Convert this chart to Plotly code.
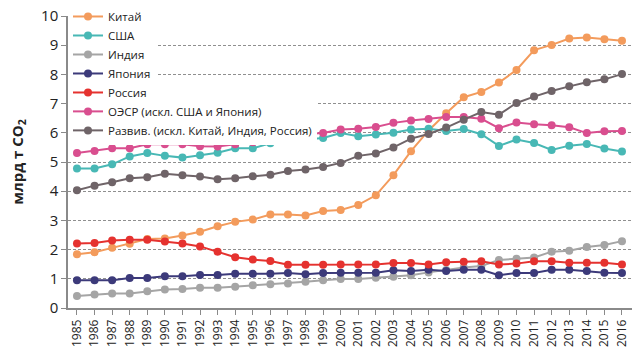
import plotly.graph_objects as go

years = list(range(1985, 2017))

china = [1.84, 1.91, 2.06, 2.20, 2.36, 2.38, 2.48, 2.61, 2.80, 2.95, 3.03, 3.20, 3.20, 3.17, 3.32, 3.36,
         3.53, 3.86, 4.55, 5.37, 6.08, 6.67, 7.22, 7.40, 7.72, 8.15, 8.83, 9.01, 9.23, 9.26, 9.20, 9.15]
usa = [4.78, 4.78, 4.92, 5.19, 5.31, 5.21, 5.15, 5.23, 5.32, 5.47, 5.47, 5.64, 5.73, 5.77, 5.82, 5.99,
       5.88, 5.94, 6.00, 6.11, 6.14, 6.06, 6.13, 5.95, 5.55, 5.77, 5.65, 5.41, 5.56, 5.62, 5.46, 5.36]
india = [0.41, 0.46, 0.50, 0.50, 0.57, 0.63, 0.65, 0.69, 0.69, 0.73, 0.78, 0.81, 0.84, 0.90, 0.95, 0.99,
         0.99, 1.04, 1.07, 1.12, 1.22, 1.30, 1.39, 1.44, 1.64, 1.69, 1.73, 1.93, 1.96, 2.09, 2.16, 2.29]
japan = [0.95, 0.95, 0.95, 1.03, 1.03, 1.09, 1.09, 1.13, 1.13, 1.17, 1.17, 1.17, 1.20, 1.16, 1.20, 1.21,
         1.21, 1.21, 1.29, 1.27, 1.31, 1.27, 1.31, 1.31, 1.12, 1.20, 1.20, 1.31, 1.31, 1.27, 1.21, 1.20]
russia = [2.21, 2.23, 2.31, 2.34, 2.34, 2.28, 2.21, 2.11, 1.93, 1.74, 1.66, 1.61, 1.48, 1.48, 1.48, 1.49,
          1.49, 1.49, 1.54, 1.54, 1.49, 1.57, 1.58, 1.60, 1.49, 1.52, 1.60, 1.60, 1.55, 1.55, 1.55, 1.49]
oecd = [5.31, 5.38, 5.47, 5.47, 5.61, 5.61, 5.61, 5.54, 5.53, 5.61, 5.68, 5.93, 5.93, 5.96, 5.99, 6.11,
        6.14, 6.20, 6.34, 6.42, 6.47, 6.54, 6.54, 6.48, 6.16, 6.35, 6.29, 6.26, 6.19, 5.99, 6.05, 6.06]
develop = [4.03, 4.19, 4.31, 4.44, 4.48, 4.60, 4.55, 4.50, 4.41, 4.44, 4.51, 4.56, 4.69, 4.74, 4.83, 4.97,
           5.21, 5.29, 5.50, 5.80, 5.96, 6.18, 6.45, 6.71, 6.62, 7.02, 7.24, 7.43, 7.59, 7.73, 7.83, 8.01]

series = [
    ("Китай", china, "#F39B5C", "legend"),
    ("США", usa, "#48B8B5", "legend"),
    ("Индия", india, "#A5A5A5", "legend"),
    ("Япония", japan, "#3C3A7A", "legend"),
    ("Россия", russia, "#E5322F", "legend"),
    ("ОЭСР (искл. США и Япония)", oecd, "#D94E8F", "legend2"),
    ("Развив. (искл. Китай, Индия, Россия)", develop, "#6F6468", "legend2"),
]

yticks = list(range(0, 11))

fig = go.Figure()
for name, vals, color, lg in series:
    fig.add_trace(go.Scatter(
        x=years, y=vals, name=name, mode="lines+markers",
        line=dict(color=color, width=2),
        marker=dict(color=color, size=8),
        legend=lg,
    ))

font_family = "Open Sans, Noto Sans, sans-serif"
legend_common = dict(
    bgcolor="white", borderwidth=0, font=dict(size=11.5, color="#222", family=font_family),
    xanchor="left", yanchor="top", itemwidth=30, tracegroupgap=0,
)

fig.update_layout(
    width=641, height=356,
    margin=dict(l=68, r=9, t=16, b=48, autoexpand=False),
    paper_bgcolor="white", plot_bgcolor="white",
    font=dict(family=font_family, color="#222"),
    showlegend=True,
    legend=dict(x=0.0, y=1.048, **legend_common),
    legend2=dict(x=0.0, y=0.723, **legend_common),
    xaxis=dict(
        range=[1984.49, 2016.57], tickmode="array", tickvals=years,
        ticktext=[str(y) for y in years], tickangle=-90,
        tickfont=dict(size=12, color="#222"),
        showgrid=False, zeroline=False,
        showline=True, linecolor="#8a8a8a", linewidth=1.5,
        ticks="outside", ticklen=5, tickcolor="#8a8a8a",
    ),
    yaxis=dict(
        range=[0, 10], tickmode="array", tickvals=yticks,
        tickfont=dict(size=15, color="#222"),
        showgrid=True, gridcolor="#8f8f8f", griddash="3px,2px", gridwidth=1,
        zeroline=False, showline=True, linecolor="#8a8a8a", linewidth=1.5,
        ticks="outside", ticklen=5, tickcolor="#8a8a8a",
        title=dict(text="<b>млрд т CO<sub>2</sub></b>", font=dict(size=15, color="#222"), standoff=14),
    ),
)

fig.write_html(
    "out.html",
    config={"displayModeBar": False},
    post_script="document.body.style.margin='0';document.body.style.padding='0';",
)
